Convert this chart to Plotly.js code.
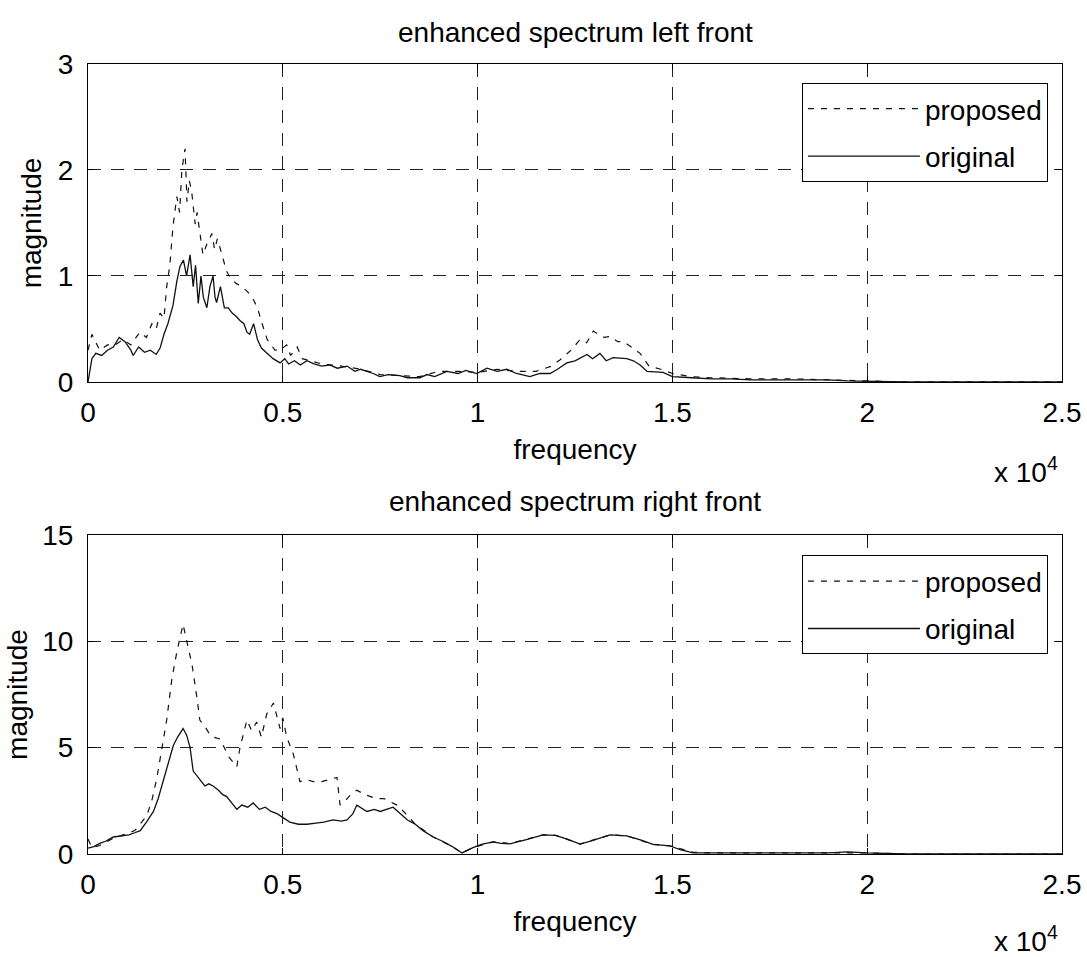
<!DOCTYPE html>
<html>
<head>
<meta charset="utf-8">
<script src="https://cdn.plot.ly/plotly-3.0.1.min.js"></script>
<style>html,body{margin:0;padding:0;background:#fff;}#chart{width:1087px;height:957px;}</style>
</head>
<body>
<div id="chart"></div>
<script>
// ---- data (frequency in Hz, magnitude) ----
const leftOrigFreq = [0,100,200,350,500,650,800,950,1100,1160,1300,1450,1600,1750,1850,1950,2050,2180,2280,2360,2450,2530,2620,2700,2760,2830,2900,2960,3050,3130,3210,3260,3300,3400,3500,3600,3700,3800,3900,4000,4080,4150,4250,4350,4450,4590,4750,4930,5050,5150,5300,5450,5620,5800,6000,6200,6400,6650,6850,7000,7320,7490,7700,8000,8200,8520,8700,8900,9210,9500,9700,9980,10240,10500,10750,11000,11340,11600,11860,12050,12290,12500,12810,12950,13140,13300,13480,13830,14000,14170,14350,14760,15000,15500,16000,16500,17000,18000,19000,19500,20000,21000,25000];
const leftOrigMag = [0,0.22,0.27,0.25,0.3,0.33,0.42,0.38,0.3,0.25,0.33,0.28,0.3,0.26,0.32,0.45,0.55,0.72,0.95,1.09,1.15,1.0,1.2,0.9,1.1,0.74,1.0,0.8,0.7,0.9,1.0,0.8,0.75,0.9,0.7,0.7,0.65,0.62,0.58,0.55,0.47,0.45,0.55,0.4,0.32,0.27,0.22,0.18,0.22,0.17,0.2,0.16,0.2,0.17,0.15,0.16,0.13,0.15,0.1,0.12,0.08,0.05,0.07,0.06,0.04,0.04,0.07,0.05,0.1,0.08,0.11,0.08,0.13,0.1,0.12,0.08,0.05,0.08,0.08,0.12,0.18,0.2,0.26,0.22,0.27,0.2,0.23,0.22,0.2,0.16,0.1,0.09,0.05,0.04,0.03,0.03,0.02,0.02,0.02,0.01,0.005,0,0];

const leftPropFreq = [0,100,300,500,700,900,1100,1330,1500,1640,1750,1850,1950,2020,2100,2180,2280,2350,2410,2490,2540,2600,2660,2750,2800,2870,2950,3050,3180,3250,3320,3440,3550,3640,3800,3950,4100,4240,4350,4460,4600,4800,4930,5100,5200,5370,5500,5700,6000,6500,7000,7500,8000,8500,9000,9500,10000,10500,11000,11500,11900,12120,12400,12630,12800,12970,13100,13250,13400,13600,13750,13950,14170,14400,14700,15000,15500,16000,17000,18000,19000,20000,21000,25000];
const leftPropMag = [0.3,0.45,0.3,0.35,0.35,0.4,0.35,0.47,0.42,0.55,0.5,0.65,0.6,0.9,1.1,1.46,1.75,1.6,2.0,2.2,1.7,1.9,1.8,1.49,1.6,1.43,1.2,1.3,1.4,1.25,1.35,1.2,1.05,0.99,0.93,0.9,0.85,0.78,0.7,0.56,0.4,0.3,0.3,0.35,0.25,0.33,0.22,0.2,0.17,0.15,0.12,0.07,0.06,0.05,0.1,0.1,0.09,0.12,0.1,0.1,0.15,0.21,0.3,0.4,0.37,0.48,0.45,0.42,0.43,0.38,0.38,0.33,0.27,0.15,0.12,0.08,0.05,0.04,0.03,0.03,0.02,0.01,0,0];

const rightOrigFreq = [0,150,300,450,650,850,1050,1200,1340,1500,1680,1800,1930,2050,2190,2300,2440,2530,2620,2700,2780,2870,3000,3100,3210,3350,3450,3560,3700,3820,3950,4100,4240,4400,4550,4700,4850,5000,5180,5400,5620,5850,6050,6290,6500,6650,6800,6900,7000,7160,7350,7500,7830,8010,8200,8400,8600,8860,9100,9350,9600,9880,10100,10400,10600,10830,11000,11300,11680,12000,12300,12630,12900,13150,13400,13830,14200,14500,14940,15200,15530,16000,17000,18000,19000,19500,20000,21000,25000];
const rightOrigMag = [0.28,0.35,0.5,0.6,0.8,0.85,0.9,1.0,1.1,1.5,2.0,2.6,3.4,4.2,5.1,5.5,5.9,5.6,5.0,3.9,3.7,3.5,3.2,3.3,3.2,3.0,2.8,2.7,2.4,2.1,2.3,2.2,2.4,2.1,2.2,2.0,1.9,1.7,1.5,1.4,1.4,1.45,1.5,1.6,1.55,1.6,1.9,2.3,2.2,2.0,2.1,2.0,2.2,1.9,1.6,1.4,1.1,0.8,0.6,0.35,0.05,0.3,0.45,0.57,0.5,0.48,0.55,0.7,0.9,0.88,0.7,0.47,0.6,0.75,0.9,0.85,0.65,0.45,0.38,0.2,0.05,0.05,0.05,0.05,0.05,0.1,0.05,0,0];

const rightPropFreq = [0,100,300,600,900,1200,1510,1650,1770,1900,2020,2150,2280,2440,2530,2600,2670,2800,2870,3000,3100,3210,3400,3600,3820,3900,4080,4200,4330,4450,4590,4760,4850,4930,5000,5100,5270,5440,5600,5780,6000,6200,6390,6470,6600,6750,6900,7100,7410,7600,7930,8100,8400,8860,9350,9600,9880,10400,10830,11680,12000,12630,13400,13830,14500,14940,15530,16000,18000,20000,21000,25000];
const rightPropMag = [0.7,0.3,0.4,0.7,0.9,1.1,1.8,2.6,3.6,5.0,6.3,8.2,9.5,10.8,10.0,9.5,8.9,7.3,6.3,6.0,5.7,5.5,5.4,4.6,4.1,5.0,6.3,5.8,6.2,5.5,6.6,7.1,6.5,5.9,6.4,5.5,4.7,3.4,3.5,3.4,3.4,3.5,3.6,2.3,2.5,2.8,3.0,2.8,2.6,2.6,2.3,2.0,1.4,0.8,0.35,0.05,0.3,0.57,0.5,0.9,0.88,0.47,0.9,0.85,0.45,0.38,0.08,0.05,0.05,0.05,0,0];

const seriesNames = ['proposed', 'original'];
const tickVals = [0, 5000, 10000, 15000, 20000, 25000];
const tickText = ['0', '0.5', '1', '1.5', '2', '2.5'];
const topYTicks = [0, 1, 2, 3];
const bottomYTicks = [0, 5, 10, 15];
const titles = ['enhanced spectrum left front', 'enhanced spectrum right front'];

const FONT = 'Arial, "Liberation Sans", Helvetica, sans-serif';
const FS = 28;
const propLine = {color: '#111', width: 1.2, dash: '6px,7px'};
const origLine = {color: '#111', width: 1.3};

const traces = [
  {x: leftPropFreq, y: leftPropMag, name: seriesNames[0], mode: 'lines', line: propLine, xaxis: 'x', yaxis: 'y', legend: 'legend', legendgroup: 'p1'},
  {x: leftOrigFreq, y: leftOrigMag, name: seriesNames[1], mode: 'lines', line: origLine, xaxis: 'x', yaxis: 'y', legend: 'legend', legendgroup: 'o1'},
  {x: rightPropFreq, y: rightPropMag, name: seriesNames[0], mode: 'lines', line: propLine, xaxis: 'x2', yaxis: 'y2', legend: 'legend2', legendgroup: 'p2'},
  {x: rightOrigFreq, y: rightOrigMag, name: seriesNames[1], mode: 'lines', line: origLine, xaxis: 'x2', yaxis: 'y2', legend: 'legend2', legendgroup: 'o2'}
];

const axisCommon = {
  showline: true, linecolor: '#000', linewidth: 1, mirror: 'ticks',
  ticks: 'inside', ticklen: 6, tickcolor: '#000',
  showgrid: true, gridcolor: '#222', gridwidth: 1, griddash: '13px,10px',
  zeroline: false, tickfont: {family: FONT, size: FS, color: '#000'}
};

const xCommon = Object.assign({}, axisCommon, {
  range: [0, 25000], tickmode: 'array', tickvals: tickVals, ticktext: tickText,
  title: {text: 'frequency', font: {family: FONT, size: FS, color: '#000'}, standoff: 12},
  ticklabelstandoff: 5
});

const legendCommon = {
  x: 0.733, xanchor: 'left', yanchor: 'top',
  bgcolor: '#fff', bordercolor: '#000', borderwidth: 1,
  font: {family: FONT, size: FS, color: '#000'}, itemwidth: 112, tracegroupgap: 8
};

const layout = {
  width: 1087, height: 957,
  margin: {l: 88, r: 25, t: 64, b: 103},
  paper_bgcolor: '#fff', plot_bgcolor: '#fff',
  showlegend: true,
  xaxis: Object.assign({}, xCommon, {domain: [0, 1], anchor: 'y'}),
  xaxis2: Object.assign({}, xCommon, {domain: [0, 1], anchor: 'y2'}),
  yaxis: Object.assign({}, axisCommon, {domain: [0.5975, 1], anchor: 'x', range: [0, 3], tickmode: 'array', tickvals: topYTicks,
    title: {text: 'magnitude', font: {family: FONT, size: FS, color: '#000'}, standoff: 8}, ticklabelstandoff: 8}),
  yaxis2: Object.assign({}, axisCommon, {domain: [0, 0.4038], anchor: 'x2', range: [0, 15], tickmode: 'array', tickvals: bottomYTicks,
    title: {text: 'magnitude', font: {family: FONT, size: FS, color: '#000'}, standoff: 6}, ticklabelstandoff: 8}),
  legend: Object.assign({}, legendCommon, {y: 0.976}),
  legend2: Object.assign({}, legendCommon, {y: 0.378}),
  annotations: [
    {text: titles[0], xref: 'paper', yref: 'paper', x: 0.5, y: 1.0405, xanchor: 'center', yanchor: 'middle', showarrow: false, font: {family: FONT, size: FS, color: '#000'}},
    {text: titles[1], xref: 'paper', yref: 'paper', x: 0.5, y: 0.4468, xanchor: 'center', yanchor: 'middle', showarrow: false, font: {family: FONT, size: FS, color: '#000'}},
    {text: 'x 10<sup>4</sup>', xref: 'paper', yref: 'paper', x: 0.998, y: 0.486, xanchor: 'right', yanchor: 'middle', showarrow: false, font: {family: FONT, size: FS, color: '#000'}},
    {text: 'x 10<sup>4</sup>', xref: 'paper', yref: 'paper', x: 0.998, y: -0.108, xanchor: 'right', yanchor: 'middle', showarrow: false, font: {family: FONT, size: FS, color: '#000'}}
  ]
};

Plotly.newPlot('chart', traces, layout, {displayModeBar: false, staticPlot: true});
</script>
</body>
</html>
